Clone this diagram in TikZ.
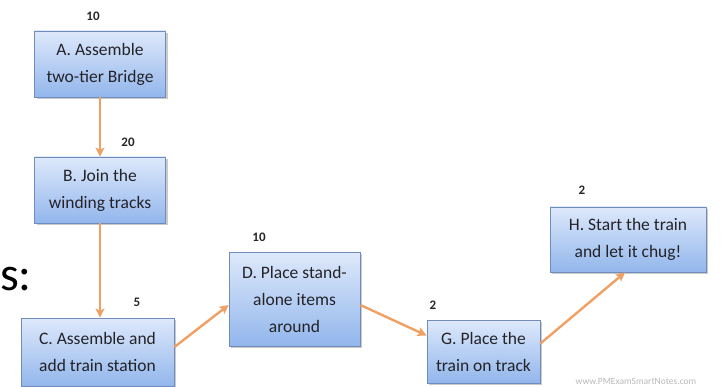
\documentclass[tikz,border=0pt]{standalone}
\usepackage{fontspec}
\setmainfont{Carlito}
\usetikzlibrary{arrows.meta,shadows}
\definecolor{boxtop}{RGB}{222,233,251}
\definecolor{boxbot}{RGB}{146,182,236}
\definecolor{boxline}{RGB}{112,140,188}
\definecolor{flow}{RGB}{240,160,98}
\definecolor{ink}{RGB}{35,35,40}
\tikzset{
  task/.style={rectangle, draw=boxline, line width=0.8pt,
    top color=boxtop, bottom color=boxbot,
    drop shadow={shadow xshift=2pt, shadow yshift=-2pt, fill=black!35, opacity=0.6},
    text=ink, align=center, inner sep=2pt,
    font=\fontsize{17.5}{27}\selectfont},
  dur/.style={font=\fontsize{13}{15}\selectfont\bfseries, text=black!85, inner sep=0pt},
  flowline/.style={draw=flow, line width=2.4pt,
    -{Stealth[length=9pt,width=9pt,inset=2pt]}}
}
\begin{document}
\begin{tikzpicture}[x=1pt,y=-1pt]
\useasboundingbox (0,0) rectangle (722,387);

% activity boxes
\node[task, minimum width=131pt, minimum height=66pt] (A) at (100,64)
  {A. Assemble\\two-tier Bridge};
\node[task, minimum width=131pt, minimum height=66pt] (B) at (100,190)
  {B. Join the\\winding tracks};
\node[task, minimum width=153pt, minimum height=68pt] (C) at (97.5,352)
  {C. Assemble and\\add train station};
\node[task, minimum width=131pt, minimum height=94pt] (D) at (294.5,299)
  {D. Place stand-\\alone items\\around};
\node[task, minimum width=113pt, minimum height=63pt] (G) at (483.5,351.5)
  {G. Place the\\train on track};
\node[task, minimum width=156pt, minimum height=65pt] (H) at (628,239.5)
  {H. Start the train\\and let it chug!};

% durations
\node[dur] (dA) at (93,16) {10};
\node[dur] (dB) at (128,142) {20};
\node[dur] (dC) at (137,302) {5};
\node[dur] (dD) at (259,237) {10};
\node[dur] (dG) at (433,305) {2};
\node[dur] (dH) at (582,190) {2};

% heading fragment
\node[anchor=base west, inner sep=0pt, text=black,
  font=\fontsize{48}{50}\selectfont] (head) at (0,290) {s:};

% site mark
\node[text=black!28, inner sep=0pt, font=\fontsize{9.5}{10}\selectfont] (site) at (636,381)
  {www.PMExamSmartNotes.com};

% precedence arrows
\draw[flowline] (A.south) -- (B.north);
\draw[flowline] (B.south) -- (B.south |- C.north);
\draw[flowline] ([yshift=5pt]C.east) -- ([yshift=-6pt]D.west);
\draw[flowline] ([yshift=-6pt]D.east) -- ([yshift=16pt]G.west);
\draw[flowline] ([yshift=8pt]G.east) -- ([xshift=-3pt]H.south);
\end{tikzpicture}
\end{document}
